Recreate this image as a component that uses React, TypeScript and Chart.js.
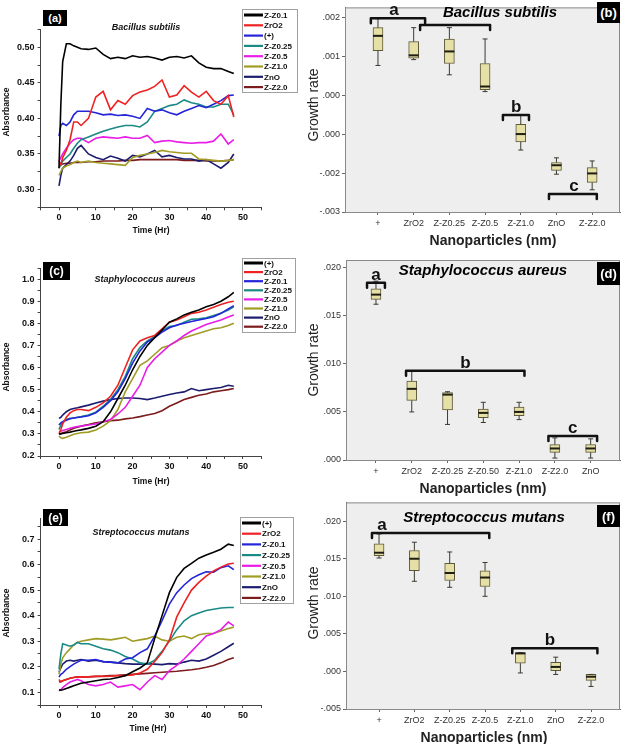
import React, { useEffect, useRef } from 'react';
import { Chart, registerables } from 'chart.js';
Chart.register(...registerables);

// ---------- shared time axis (hours) ----------
const TIME = [0, 0.5, 1, 2, 3, 4, 5, 6, 8, 10, 12, 14, 16, 18, 20, 22, 24, 26, 28, 30, 32, 34, 36, 38, 40, 42, 44, 46, 47.5];

// ---------- (a) Bacillus subtilis, absorbance ----------
const A_LABELS = ['Z-Z0.1', 'ZrO2', '(+)', 'Z-Z0.25', 'Z-Z0.5', 'Z-Z1.0', 'ZnO', 'Z-Z2.0'];
const A_ZZ01 = [0.330, 0.420, 0.480, 0.505, 0.505, 0.502, 0.500, 0.498, 0.497, 0.499, 0.490, 0.484, 0.486, 0.484, 0.488, 0.486, 0.487, 0.485, 0.482, 0.486, 0.487, 0.485, 0.488, 0.478, 0.472, 0.470, 0.470, 0.466, 0.463];
const A_ZRO2 = [0.340, 0.335, 0.345, 0.355, 0.370, 0.395, 0.395, 0.390, 0.400, 0.430, 0.438, 0.412, 0.425, 0.420, 0.432, 0.437, 0.440, 0.445, 0.454, 0.430, 0.433, 0.446, 0.437, 0.430, 0.438, 0.425, 0.420, 0.432, 0.402];
const A_POS = [0.375, 0.390, 0.393, 0.390, 0.395, 0.405, 0.410, 0.410, 0.410, 0.408, 0.405, 0.406, 0.404, 0.405, 0.403, 0.400, 0.414, 0.410, 0.412, 0.408, 0.405, 0.410, 0.414, 0.418, 0.415, 0.420, 0.425, 0.432, 0.433];
const A_ZZ025 = [0.330, 0.335, 0.340, 0.345, 0.350, 0.358, 0.365, 0.370, 0.374, 0.378, 0.382, 0.385, 0.388, 0.390, 0.390, 0.388, 0.395, 0.410, 0.414, 0.418, 0.420, 0.426, 0.422, 0.420, 0.416, 0.416, 0.420, 0.420, 0.405];
const A_ZZ05 = [0.340, 0.345, 0.350, 0.358, 0.365, 0.370, 0.372, 0.372, 0.366, 0.372, 0.374, 0.373, 0.372, 0.374, 0.372, 0.372, 0.376, 0.366, 0.368, 0.369, 0.367, 0.366, 0.365, 0.366, 0.366, 0.368, 0.378, 0.364, 0.370];
const A_ZZ10 = [0.320, 0.325, 0.330, 0.333, 0.335, 0.338, 0.340, 0.338, 0.340, 0.338, 0.337, 0.336, 0.335, 0.334, 0.345, 0.348, 0.350, 0.352, 0.355, 0.353, 0.352, 0.351, 0.351, 0.343, 0.342, 0.341, 0.340, 0.341, 0.342];
const A_ZNO = [0.305, 0.320, 0.330, 0.335, 0.340, 0.348, 0.358, 0.362, 0.350, 0.345, 0.342, 0.347, 0.344, 0.340, 0.348, 0.346, 0.350, 0.355, 0.346, 0.348, 0.345, 0.343, 0.343, 0.340, 0.342, 0.336, 0.330, 0.338, 0.350];
const A_ZZ20 = [0.335, 0.335, 0.336, 0.337, 0.337, 0.338, 0.338, 0.338, 0.339, 0.339, 0.340, 0.340, 0.340, 0.341, 0.341, 0.342, 0.342, 0.342, 0.342, 0.342, 0.342, 0.341, 0.341, 0.341, 0.340, 0.340, 0.340, 0.341, 0.342];

// ---------- (c) Staphylococcus aureus, absorbance ----------
const C_LABELS = ['(+)', 'ZrO2', 'Z-Z0.1', 'Z-Z0.25', 'Z-Z0.5', 'Z-Z1.0', 'ZnO', 'Z-Z2.0'];
const C_POS = [0.300, 0.300, 0.302, 0.305, 0.308, 0.312, 0.315, 0.318, 0.325, 0.335, 0.355, 0.400, 0.460, 0.520, 0.590, 0.650, 0.700, 0.735, 0.770, 0.805, 0.820, 0.838, 0.850, 0.860, 0.875, 0.885, 0.900, 0.920, 0.940];
const C_ZRO2 = [0.300, 0.320, 0.345, 0.375, 0.395, 0.405, 0.410, 0.410, 0.405, 0.420, 0.440, 0.470, 0.520, 0.600, 0.680, 0.720, 0.735, 0.745, 0.775, 0.805, 0.815, 0.830, 0.845, 0.850, 0.860, 0.872, 0.885, 0.895, 0.900];
const C_ZZ01 = [0.340, 0.350, 0.355, 0.362, 0.368, 0.372, 0.374, 0.376, 0.382, 0.395, 0.420, 0.450, 0.490, 0.550, 0.620, 0.675, 0.715, 0.735, 0.760, 0.780, 0.792, 0.800, 0.808, 0.815, 0.822, 0.830, 0.845, 0.865, 0.880];
const C_ZZ025 = [0.320, 0.340, 0.355, 0.365, 0.370, 0.372, 0.375, 0.378, 0.385, 0.398, 0.425, 0.455, 0.500, 0.560, 0.640, 0.690, 0.720, 0.740, 0.765, 0.785, 0.790, 0.805, 0.818, 0.820, 0.825, 0.835, 0.845, 0.860, 0.875];
const C_ZZ05 = [0.310, 0.312, 0.315, 0.320, 0.325, 0.330, 0.333, 0.335, 0.340, 0.345, 0.355, 0.365, 0.390, 0.420, 0.470, 0.520, 0.600, 0.640, 0.670, 0.700, 0.720, 0.745, 0.765, 0.780, 0.795, 0.805, 0.815, 0.828, 0.838];
const C_ZZ10 = [0.290, 0.282, 0.280, 0.285, 0.292, 0.298, 0.302, 0.305, 0.308, 0.318, 0.335, 0.360, 0.410, 0.490, 0.550, 0.610, 0.630, 0.660, 0.690, 0.700, 0.720, 0.735, 0.745, 0.755, 0.765, 0.775, 0.780, 0.790, 0.800];
const C_ZNO = [0.370, 0.375, 0.385, 0.400, 0.410, 0.415, 0.418, 0.422, 0.430, 0.440, 0.448, 0.455, 0.460, 0.462, 0.462, 0.460, 0.455, 0.462, 0.470, 0.478, 0.485, 0.490, 0.505, 0.495, 0.500, 0.505, 0.510, 0.520, 0.515];
const C_ZZ20 = [0.300, 0.302, 0.305, 0.310, 0.318, 0.325, 0.330, 0.335, 0.342, 0.350, 0.355, 0.360, 0.362, 0.368, 0.372, 0.378, 0.385, 0.392, 0.405, 0.425, 0.440, 0.455, 0.465, 0.475, 0.480, 0.490, 0.495, 0.500, 0.505];

// ---------- (e) Streptococcus mutans, absorbance ----------
const E_LABELS = ['(+)', 'ZrO2', 'Z-Z0.1', 'Z-Z0.25', 'Z-Z0.5', 'Z-Z1.0', 'ZnO', 'Z-Z2.0'];
const E_POS = [0.110, 0.108, 0.110, 0.115, 0.120, 0.125, 0.130, 0.135, 0.140, 0.145, 0.150, 0.152, 0.158, 0.165, 0.180, 0.195, 0.215, 0.310, 0.400, 0.490, 0.550, 0.585, 0.605, 0.625, 0.637, 0.648, 0.660, 0.680, 0.675];
const E_ZRO2 = [0.150, 0.140, 0.145, 0.150, 0.155, 0.158, 0.160, 0.160, 0.160, 0.162, 0.162, 0.163, 0.165, 0.166, 0.168, 0.175, 0.190, 0.220, 0.255, 0.305, 0.395, 0.450, 0.500, 0.530, 0.555, 0.575, 0.590, 0.602, 0.605];
const E_ZZ01 = [0.160, 0.170, 0.175, 0.190, 0.200, 0.210, 0.218, 0.225, 0.225, 0.228, 0.220, 0.218, 0.215, 0.230, 0.235, 0.255, 0.270, 0.320, 0.380, 0.445, 0.490, 0.520, 0.545, 0.560, 0.572, 0.570, 0.588, 0.595, 0.580];
const E_ZZ025 = [0.190, 0.250, 0.290, 0.285, 0.280, 0.285, 0.295, 0.290, 0.290, 0.280, 0.270, 0.265, 0.255, 0.240, 0.230, 0.215, 0.210, 0.225, 0.260, 0.300, 0.345, 0.380, 0.400, 0.410, 0.420, 0.425, 0.430, 0.432, 0.432];
const E_ZZ05 = [0.105, 0.110, 0.118, 0.130, 0.140, 0.145, 0.150, 0.145, 0.130, 0.125, 0.130, 0.140, 0.120, 0.125, 0.130, 0.110, 0.140, 0.165, 0.150, 0.185, 0.205, 0.230, 0.260, 0.290, 0.320, 0.330, 0.345, 0.375, 0.360];
const E_ZZ10 = [0.170, 0.210, 0.235, 0.255, 0.270, 0.285, 0.295, 0.300, 0.305, 0.310, 0.308, 0.305, 0.310, 0.315, 0.300, 0.305, 0.310, 0.320, 0.305, 0.300, 0.315, 0.320, 0.310, 0.325, 0.330, 0.330, 0.340, 0.350, 0.355];
const E_ZNO = [0.180, 0.195, 0.210, 0.222, 0.225, 0.222, 0.225, 0.228, 0.222, 0.225, 0.220, 0.218, 0.215, 0.212, 0.210, 0.210, 0.212, 0.210, 0.208, 0.212, 0.210, 0.218, 0.225, 0.222, 0.230, 0.245, 0.260, 0.278, 0.292];
const E_ZZ20 = [0.140, 0.142, 0.145, 0.150, 0.155, 0.158, 0.160, 0.160, 0.160, 0.162, 0.163, 0.165, 0.166, 0.168, 0.170, 0.172, 0.174, 0.176, 0.178, 0.180, 0.182, 0.185, 0.188, 0.192, 0.198, 0.205, 0.215, 0.228, 0.235];

// ---------- (b) Bacillus subtilis, growth rate box plot ----------
const B_CATS = ['+', 'ZrO2', 'Z-Z0.25', 'Z-Z0.5', 'Z-Z1.0', 'ZnO', 'Z-Z2.0'];
const B_MIN = [0.00076, 0.00091, 0.00052, 0.00009, -0.00141, -0.00203, -0.00243];
const B_Q1 = [0.00114, 0.00095, 0.00081, 0.00014, -0.00120, -0.00193, -0.00224];
const B_MED = [0.00152, 0.00102, 0.00112, 0.00022, -0.00100, -0.00180, -0.00201];
const B_Q3 = [0.00173, 0.00137, 0.00144, 0.00081, -0.00075, -0.00173, -0.00186];
const B_MAX = [0.00196, 0.00173, 0.00173, 0.00144, -0.00050, -0.00161, -0.00169];
const B_TICKS = [-0.003, -0.002, -0.001, 0, 0.001, 0.002];
const B_TICK_LABELS = ['-.003', '-.002', '.000', '.000', '.001', '.002'];
const B_BR_FROM = [0.80, 2.18, 4.50, 5.79];
const B_BR_TO = [2.32, 4.14, 5.23, 7.13];
const B_BR_Y = [0.00197, 0.00180, -0.00051, -0.00254];
const B_BR_LETTER = ['a', '', 'b', 'c'];
const B_BR_LETTER_X = [1.45, 3.16, 4.87, 6.49];

// ---------- (d) Staphylococcus aureus, growth rate box plot ----------
const D_CATS = ['+', 'ZrO2', 'Z-Z0.25', 'Z-Z0.50', 'Z-Z1.0', 'Z-Z2.0', 'ZnO'];
const D_MIN = [0.0162, 0.0050, 0.0037, 0.0039, 0.0042, 0.0002, 0.0002];
const D_Q1 = [0.0167, 0.0062, 0.0052, 0.0044, 0.0046, 0.0008, 0.0008];
const D_MED = [0.0172, 0.0074, 0.0068, 0.0049, 0.0050, 0.0012, 0.0012];
const D_Q3 = [0.0178, 0.0082, 0.0070, 0.0053, 0.0055, 0.0016, 0.0016];
const D_MAX = [0.0186, 0.0092, 0.0071, 0.0060, 0.0060, 0.0023, 0.0022];
const D_TICKS = [0, 0.005, 0.010, 0.015, 0.020];
const D_TICK_LABELS = ['.000', '.005', '.010', '.015', '.020'];
const D_BR_FROM = [0.75, 1.84, 5.82];
const D_BR_TO = [1.25, 5.15, 7.18];
const D_BR_Y = [0.01844, 0.00927, 0.00250];
const D_BR_LETTER = ['a', 'b', 'c'];
const D_BR_LETTER_X = [1.0, 3.5, 6.5];

// ---------- (f) Streptococcus mutans, growth rate box plot ----------
const F_CATS = ['+', 'ZrO2', 'Z-Z0.25', 'Z-Z0.5', 'Z-Z1.0', 'ZnO', 'Z-Z2.0'];
const F_MIN = [0.0151, 0.0120, 0.0112, 0.0100, -0.0002, -0.0004, -0.0020];
const F_Q1 = [0.0154, 0.0134, 0.0121, 0.0113, 0.0011, 0.0001, -0.0012];
const F_MED = [0.0158, 0.0150, 0.0131, 0.0125, 0.0024, 0.0006, -0.0007];
const F_Q3 = [0.0170, 0.0161, 0.0144, 0.0134, 0.0025, 0.0012, -0.0004];
const F_MAX = [0.0183, 0.0172, 0.0159, 0.0145, 0.0025, 0.0019, -0.0004];
const F_TICKS = [-0.005, 0, 0.005, 0.010, 0.015, 0.020];
const F_TICK_LABELS = ['-.005', '.000', '.005', '.010', '.015', '.020'];
const F_BR_FROM = [0.80, 4.77];
const F_BR_TO = [4.12, 7.18];
const F_BR_Y = [0.01844, 0.00307];
const F_BR_LETTER = ['a', 'b'];
const F_BR_LETTER_X = [1.08, 5.84];

// ---------- styling ----------
const LINE_COLORS = ['#000000', '#ee2222', '#2424d8', '#1a8a85', '#e81ee8', '#a09c26', '#1c1c6e', '#7c1c1c'];
const FONT = '"Liberation Sans", Arial, sans-serif';

function stepTicks(min: number, max: number, step: number) {
  const out: number[] = [];
  const n = Math.floor((max - min) / step + 1e-9);
  for (let i = 0; i <= n; i++) out.push(+(min + i * step).toFixed(6));
  return out;
}

function legendPlugin(g: any) {
  return {
    id: 'panelLegend',
    afterDraw(chart: any) {
      const ctx = chart.ctx;
      ctx.save();
      ctx.fillStyle = '#ffffff';
      ctx.fillRect(g.x, g.y, g.w, g.h);
      ctx.strokeStyle = '#a0a0a0';
      ctx.lineWidth = 1;
      ctx.strokeRect(g.x + 0.5, g.y + 0.5, g.w, g.h);
      ctx.font = `bold 8px ${FONT}`;
      ctx.textBaseline = 'middle';
      ctx.textAlign = 'left';
      chart.data.datasets.forEach((ds: any, i: number) => {
        const cy = g.row0 + i * g.step;
        ctx.strokeStyle = ds.borderColor;
        ctx.lineWidth = i === 0 ? 3 : 2.2;
        ctx.beginPath();
        ctx.moveTo(g.x + 2, cy);
        ctx.lineTo(g.x + 21, cy);
        ctx.stroke();
        ctx.fillStyle = '#111';
        ctx.fillText(ds.label, g.x + 22, cy + 0.5);
      });
      ctx.restore();
    },
  };
}

function lineConfig(p: any): any {
  const tickFont = { family: FONT, size: 9, weight: 'bold' as const };
  return {
    type: 'line',
    data: {
      datasets: p.series.map((vals: number[], i: number) => ({
        label: p.labels[i],
        data: TIME.map((t, j) => ({ x: t, y: vals[j] })),
        borderColor: LINE_COLORS[i],
        backgroundColor: LINE_COLORS[i],
        borderWidth: 1.6,
        pointRadius: 0,
        tension: 0,
        fill: false,
      })),
    },
    options: {
      responsive: false,
      animation: false,
      events: [],
      layout: { padding: { left: 0, right: p.w - p.right, top: p.top, bottom: 0 } },
      plugins: { legend: { display: false }, tooltip: { enabled: false } },
      scales: {
        x: {
          type: 'linear',
          min: -5,
          max: 55,
          afterBuildTicks: (s: any) => { s.ticks = stepTicks(-5, 55, 5).map((v) => ({ value: v })); },
          afterFit: (s: any) => { s.height = p.h - p.bottom; },
          ticks: {
            autoSkip: false, maxRotation: 0, padding: 2, color: '#111', font: tickFont,
            callback: (v: number) => (Math.abs(v % 10) < 1e-6 ? String(v) : ''),
          },
          grid: { drawOnChartArea: false, tickLength: 3, color: '#444' },
          border: { color: '#444', width: 1 },
        },
        y: {
          type: 'linear',
          min: p.yMin,
          max: p.yMax,
          afterBuildTicks: (s: any) => { s.ticks = stepTicks(p.yMin, p.yMax, p.yMinor).map((v) => ({ value: v })); },
          afterFit: (s: any) => { s.width = p.left; },
          ticks: {
            autoSkip: false, padding: 3, color: '#111', font: tickFont,
            callback: (v: number) => {
              const r = v / p.yMajor;
              return Math.abs(r - Math.round(r)) < 1e-6 ? v.toFixed(p.yDec) : '';
            },
          },
          grid: { drawOnChartArea: false, tickLength: 3, color: '#444' },
          border: { color: '#444', width: 1 },
        },
      },
    },
    plugins: [legendPlugin(p.legend)],
  };
}

function boxPlugin(p: any) {
  return {
    id: 'boxDecor',
    beforeDraw(chart: any) {
      const { ctx, chartArea: a } = chart;
      ctx.save();
      ctx.fillStyle = '#eeeeee';
      ctx.fillRect(a.left, a.top, a.right - a.left, a.bottom - a.top);
      ctx.restore();
    },
    afterDatasetsDraw(chart: any) {
      const { ctx, chartArea: a } = chart;
      const xs = chart.scales.x;
      const ys = chart.scales.y;
      ctx.save();
      // whiskers and medians
      p.med.forEach((m: number, i: number) => {
        const x = xs.getPixelForValue(i + 1);
        const yLo = ys.getPixelForValue(p.min[i]);
        const yQ1 = ys.getPixelForValue(p.q1[i]);
        const yQ3 = ys.getPixelForValue(p.q3[i]);
        const yHi = ys.getPixelForValue(p.max[i]);
        ctx.strokeStyle = '#3a3a30';
        ctx.lineWidth = 1;
        ctx.beginPath();
        ctx.moveTo(x, yQ1); ctx.lineTo(x, yLo);
        ctx.moveTo(x - 2.5, yLo); ctx.lineTo(x + 2.5, yLo);
        ctx.moveTo(x, yQ3); ctx.lineTo(x, yHi);
        ctx.moveTo(x - 2.5, yHi); ctx.lineTo(x + 2.5, yHi);
        ctx.stroke();
        ctx.strokeStyle = '#1e1e14';
        ctx.lineWidth = 2;
        const ym = ys.getPixelForValue(m);
        ctx.beginPath();
        ctx.moveTo(x - 5, ym); ctx.lineTo(x + 5, ym);
        ctx.stroke();
      });
      // frame
      ctx.strokeStyle = '#8a8a8a';
      ctx.lineWidth = 1;
      ctx.strokeRect(a.left + 0.5, a.top + 0.5, a.right - a.left - 1, a.bottom - a.top);
      // significance brackets
      ctx.strokeStyle = '#111';
      ctx.fillStyle = '#111';
      ctx.lineWidth = 2.5;
      ctx.lineJoin = 'round';
      ctx.lineCap = 'round';
      ctx.font = `bold 17px ${FONT}`;
      ctx.textAlign = 'center';
      ctx.textBaseline = 'alphabetic';
      p.brFrom.forEach((f: number, i: number) => {
        const x0 = xs.getPixelForValue(f);
        const x1 = xs.getPixelForValue(p.brTo[i]);
        const y = ys.getPixelForValue(p.brY[i]);
        ctx.beginPath();
        ctx.moveTo(x0, y + 5);
        ctx.lineTo(x0, y);
        ctx.lineTo(x1, y);
        ctx.lineTo(x1, y + 5);
        ctx.stroke();
        if (p.brLetter[i]) ctx.fillText(p.brLetter[i], xs.getPixelForValue(p.brLetterX[i]), y - 3);
      });
      ctx.restore();
    },
  };
}

function boxConfig(p: any): any {
  const tickFont = { family: FONT, size: 9 };
  return {
    type: 'bar',
    data: {
      datasets: [{
        data: p.q1.map((q: number, i: number) => ({ x: i + 1, y: [q, p.q3[i]] })),
        backgroundColor: '#e6dfa6',
        borderColor: '#5c5838',
        borderWidth: 1,
        borderSkipped: false,
        barThickness: 10,
      }],
    },
    options: {
      responsive: false,
      animation: false,
      events: [],
      layout: { padding: { left: 0, right: p.w - p.right, top: p.top, bottom: 0 } },
      plugins: { legend: { display: false }, tooltip: { enabled: false } },
      scales: {
        x: {
          type: 'linear',
          min: p.xMin,
          max: p.xMax,
          offset: false,
          afterBuildTicks: (s: any) => { s.ticks = p.cats.map((_: string, i: number) => ({ value: i + 1 })); },
          afterFit: (s: any) => { s.height = p.h - p.bottom; },
          ticks: {
            autoSkip: false, maxRotation: 0, padding: 3, color: '#333', font: tickFont,
            callback: (v: number) => p.cats[Math.round(v) - 1] ?? '',
          },
          grid: { drawOnChartArea: false, tickLength: 3, color: '#666', offset: false },
          border: { color: '#666', width: 1 },
        },
        y: {
          type: 'linear',
          min: p.yMin,
          max: p.yMax,
          afterBuildTicks: (s: any) => { s.ticks = p.ticks.map((v: number) => ({ value: v })); },
          afterFit: (s: any) => { s.width = p.left; },
          ticks: {
            autoSkip: false, padding: 2, color: '#333', font: tickFont,
            callback: (_v: number, i: number) => p.tickLabels[i],
          },
          grid: { drawOnChartArea: false, tickLength: 3, color: '#666' },
          border: { color: '#666', width: 1 },
        },
      },
    },
    plugins: [boxPlugin(p)],
  };
}

function ChartCanvas({ left, top, width, height, make }: any) {
  const ref = useRef<HTMLCanvasElement>(null);
  useEffect(() => {
    const chart = new Chart(ref.current as HTMLCanvasElement, make());
    return () => chart.destroy();
  }, []);
  return (
    <canvas
      ref={ref}
      width={width}
      height={height}
      style={{ position: 'absolute', left, top, width, height }}
    />
  );
}

function Txt({ x, y, rotate, style, children }: any) {
  return (
    <div
      style={{
        position: 'absolute', left: x, top: y, whiteSpace: 'nowrap', lineHeight: 1,
        fontFamily: FONT, color: '#111',
        transform: `translate(-50%, -50%)${rotate ? ' rotate(-90deg)' : ''}`,
        ...style,
      }}
    >
      {children}
    </div>
  );
}

function Tag({ x, y, w, h, size, children }: any) {
  return (
    <div
      style={{
        position: 'absolute', left: x, top: y, width: w, height: h, background: '#000',
        color: '#fff', fontFamily: FONT, fontWeight: 'bold', fontSize: size,
        display: 'flex', alignItems: 'center', justifyContent: 'center',
      }}
    >
      {children}
    </div>
  );
}

export default function App() {
  const lineA = () => lineConfig({
    labels: A_LABELS, series: [A_ZZ01, A_ZRO2, A_POS, A_ZZ025, A_ZZ05, A_ZZ10, A_ZNO, A_ZZ20],
    yMin: 0.275, yMax: 0.525, yMinor: 0.025, yMajor: 0.05, yDec: 2,
    w: 312, h: 240, left: 40.6, right: 261.4, top: 29.5, bottom: 207.3,
    legend: { x: 242, y: 9, w: 55, h: 83, row0: 15, step: 10.3 },
  });
  const lineC = () => lineConfig({
    labels: C_LABELS, series: [C_POS, C_ZRO2, C_ZZ01, C_ZZ025, C_ZZ05, C_ZZ10, C_ZNO, C_ZZ20],
    yMin: 0.2, yMax: 1.05, yMinor: 0.05, yMajor: 0.1, yDec: 1,
    w: 312, h: 250, left: 40.6, right: 261.4, top: 28, bottom: 216,
    legend: { x: 242, y: 18, w: 53, h: 74, row0: 23, step: 9.1 },
  });
  const lineE = () => lineConfig({
    labels: E_LABELS, series: [E_POS, E_ZRO2, E_ZZ01, E_ZZ025, E_ZZ05, E_ZZ10, E_ZNO, E_ZZ20],
    yMin: 0.05, yMax: 0.78, yMinor: 0.05, yMajor: 0.1, yDec: 1,
    w: 312, h: 254, left: 40.6, right: 261.4, top: 28.6, bottom: 215,
    legend: { x: 240, y: 27, w: 53, h: 86, row0: 33, step: 10.7 },
  });
  const boxB = () => boxConfig({
    cats: B_CATS, min: B_MIN, q1: B_Q1, med: B_MED, q3: B_Q3, max: B_MAX,
    ticks: B_TICKS, tickLabels: B_TICK_LABELS, yMin: -0.003, yMax: 0.00225, xMin: 0.076, xMax: 7.78,
    brFrom: B_BR_FROM, brTo: B_BR_TO, brY: B_BR_Y, brLetter: B_BR_LETTER, brLetterX: B_BR_LETTER_X,
    w: 313, h: 250, left: 33, right: 308, top: 3, bottom: 212,
  });
  const boxD = () => boxConfig({
    cats: D_CATS, min: D_MIN, q1: D_Q1, med: D_MED, q3: D_Q3, max: D_MAX,
    ticks: D_TICKS, tickLabels: D_TICK_LABELS, yMin: 0, yMax: 0.0208, xMin: 0.162, xMax: 7.82,
    brFrom: D_BR_FROM, brTo: D_BR_TO, brY: D_BR_Y, brLetter: D_BR_LETTER, brLetterX: D_BR_LETTER_X,
    w: 313, h: 245, left: 34, right: 308, top: 10, bottom: 210,
  });
  const boxF = () => boxConfig({
    cats: F_CATS, min: F_MIN, q1: F_Q1, med: F_MED, q3: F_Q3, max: F_MAX,
    ticks: F_TICKS, tickLabels: F_TICK_LABELS, yMin: -0.005, yMax: 0.0225, xMin: 0.065, xMax: 7.82,
    brFrom: F_BR_FROM, brTo: F_BR_TO, brY: F_BR_Y, brLetter: F_BR_LETTER, brLetterX: F_BR_LETTER_X,
    w: 313, h: 249, left: 34, right: 308, top: 3, bottom: 214,
  });

  const species = { fontWeight: 'bold', fontStyle: 'italic', fontSize: 9 };
  const speciesBig = { fontWeight: 'bold', fontStyle: 'italic', fontSize: 15, color: '#000' };
  const axisSmall = { fontWeight: 'bold', fontSize: 8.5 };
  const growth = { fontSize: 14, color: '#222' };
  const nano = { fontWeight: 'bold', fontSize: 14, color: '#222' };

  return (
    <div style={{ position: 'absolute', left: 0, top: 0, width: 625, height: 744, background: '#fff', overflow: 'hidden' }}>
      <ChartCanvas left={0} top={0} width={312} height={240} make={lineA} />
      <ChartCanvas left={0} top={240} width={312} height={250} make={lineC} />
      <ChartCanvas left={0} top={490} width={312} height={254} make={lineE} />
      <ChartCanvas left={312} top={0} width={313} height={250} make={boxB} />
      <ChartCanvas left={312} top={250} width={313} height={245} make={boxD} />
      <ChartCanvas left={312} top={495} width={313} height={249} make={boxF} />

      {/* line panels text */}
      <Tag x={43} y={10} w={24} h={16} size={11}>(a)</Tag>
      <Tag x={43} y={262} w={27} h={18} size={12}>(c)</Tag>
      <Tag x={43} y={509} w={25} h={17} size={12}>(e)</Tag>
      <Txt x={146} y={27} style={species}>Bacillus subtilis</Txt>
      <Txt x={145} y={279} style={species}>Staphylococcus aureus</Txt>
      <Txt x={141} y={532} style={species}>Streptococcus mutans</Txt>
      <Txt x={6} y={112} rotate style={axisSmall}>Absorbance</Txt>
      <Txt x={6} y={367} rotate style={axisSmall}>Absorbance</Txt>
      <Txt x={6} y={613} rotate style={axisSmall}>Absorbance</Txt>
      <Txt x={151} y={230} style={axisSmall}>Time (Hr)</Txt>
      <Txt x={151} y={481} style={axisSmall}>Time (Hr)</Txt>
      <Txt x={148} y={728} style={axisSmall}>Time (Hr)</Txt>

      {/* box panels text */}
      <Tag x={597} y={2} w={23} h={21} size={13}>(b)</Tag>
      <Tag x={597} y={262} w={23} h={23} size={13}>(d)</Tag>
      <Tag x={597} y={505} w={23} h={22} size={13}>(f)</Tag>
      <Txt x={500} y={11} style={speciesBig}>Bacillus subtilis</Txt>
      <Txt x={483} y={269} style={speciesBig}>Staphylococcus aureus</Txt>
      <Txt x={484} y={516} style={speciesBig}>Streptococcus mutans</Txt>
      <Txt x={313} y={105} rotate style={growth}>Growth rate</Txt>
      <Txt x={313} y={360} rotate style={growth}>Growth rate</Txt>
      <Txt x={313} y={603} rotate style={growth}>Growth rate</Txt>
      <Txt x={493} y={240} style={nano}>Nanoparticles (nm)</Txt>
      <Txt x={483} y={488} style={nano}>Nanoparticles (nm)</Txt>
      <Txt x={484} y={737} style={nano}>Nanoparticles (nm)</Txt>
    </div>
  );
}
